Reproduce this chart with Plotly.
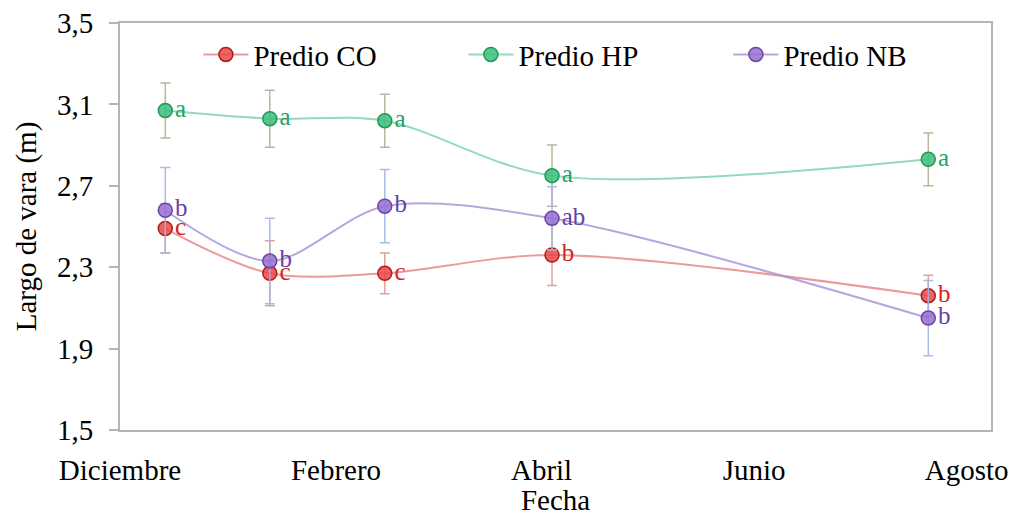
import plotly.graph_objects as go

# Sampling dates and month ticks
fechas = ["2016-12-14", "2017-01-13", "2017-02-15", "2017-04-04", "2017-07-21"]
tick_fechas = ["2016-12-01", "2017-02-01", "2017-04-01", "2017-06-01", "2017-08-01"]
tick_meses = ["Diciembre", "Febrero", "Abril", "Junio", "Agosto"]

# Stem length (m) per plot, with error bars and significance letters
co_media = [2.49, 2.27, 2.27, 2.36, 2.16]
co_error = [0.12, 0.16, 0.10, 0.15, 0.10]
co_letras = ["c", "c", "c", "b", "b"]

hp_media = [3.07, 3.03, 3.02, 2.75, 2.83]
hp_error = [0.135, 0.14, 0.13, 0.15, 0.13]
hp_letras = ["a", "a", "a", "a", "a"]

nb_media = [2.58, 2.33, 2.60, 2.54, 2.05]
nb_error = [0.21, 0.21, 0.18, 0.155, 0.185]
nb_letras = ["b", "b", "b", "ab", "b"]

series = [
    ("Predio CO", co_media, co_error, co_letras,
     "rgba(226,120,120,0.75)", "rgba(232,72,72,0.85)", "#b01c1c", "rgba(222,150,150,0.9)", "#d42424"),
    ("Predio HP", hp_media, hp_error, hp_letras,
     "rgba(120,210,165,0.8)", "rgba(60,190,125,0.85)", "#1e9a5a", "rgba(180,172,150,0.9)", "#22a266"),
    ("Predio NB", nb_media, nb_error, nb_letras,
     "rgba(170,150,215,0.85)", "rgba(150,110,210,0.85)", "#6a46a8", "rgba(160,182,225,0.9)", "#6a3fa2"),
]

FONT = "Liberation Serif"
TAM = 29

fig = go.Figure()

for nombre, media, err, letras, c_linea, c_relleno, c_borde, c_error, c_texto in series:
    fig.add_trace(go.Scatter(
        x=fechas, y=media, name=nombre,
        mode="lines+markers",
        line=dict(color=c_linea, width=2, shape="spline", smoothing=0.9),
        marker=dict(size=14, color=c_relleno, line=dict(color=c_borde, width=1.5)),
        error_y=dict(type="data", array=err, visible=True, color=c_error,
                     thickness=1.5, width=5),
    ))

# significance letters, offset to the right of each marker
for nombre, media, err, letras, c_linea, c_relleno, c_borde, c_error, c_texto in series:
    fig.add_trace(go.Scatter(
        x=fechas, y=media, mode="markers+text", text=letras,
        marker=dict(size=14, color="rgba(0,0,0,0)"),
        textposition="middle right",
        textfont=dict(family=FONT, size=25, color=c_texto),
        showlegend=False, hoverinfo="skip",
    ))

fig.update_layout(
    width=1016, height=516,
    margin=dict(l=120, r=25, t=23, b=86),
    plot_bgcolor="white", paper_bgcolor="white",
    separators=",.",
    font=dict(family=FONT, size=TAM, color="#000000"),
    showlegend=True,
    legend=dict(
        orientation="h", x=0.09, y=0.985, xanchor="left", yanchor="top",
        font=dict(family=FONT, size=TAM, color="#000000"),
        bgcolor="rgba(0,0,0,0)", itemwidth=45,
        entrywidth=205, entrywidthmode="pixels",
    ),
    xaxis=dict(
        type="date", automargin=False,
        range=["2016-12-01", "2017-08-08"],
        tickvals=tick_fechas, ticktext=tick_meses,
        showgrid=False, zeroline=False,
        showline=True, linecolor="#b4b4b4", linewidth=2, mirror=True,
        ticks="", ticklabelstandoff=13,
        tickfont=dict(family=FONT, size=TAM),
        title=dict(text="Fecha", font=dict(family=FONT, size=TAM), standoff=10),
    ),
    yaxis=dict(
        automargin=False,
        range=[1.5, 3.5], tickvals=[1.5, 1.9, 2.3, 2.7, 3.1, 3.5],
        tickformat=".1f",
        showgrid=False, zeroline=False,
        showline=True, linecolor="#b4b4b4", linewidth=2, mirror=True,
        ticks="outside", ticklen=9, tickcolor="#b4b4b4", tickwidth=1.5,
        ticklabelstandoff=10,
        tickfont=dict(family=FONT, size=TAM),
        title=dict(text="Largo de vara (m)", font=dict(family=FONT, size=TAM), standoff=12),
    ),
)

fig.write_html("out.html")
